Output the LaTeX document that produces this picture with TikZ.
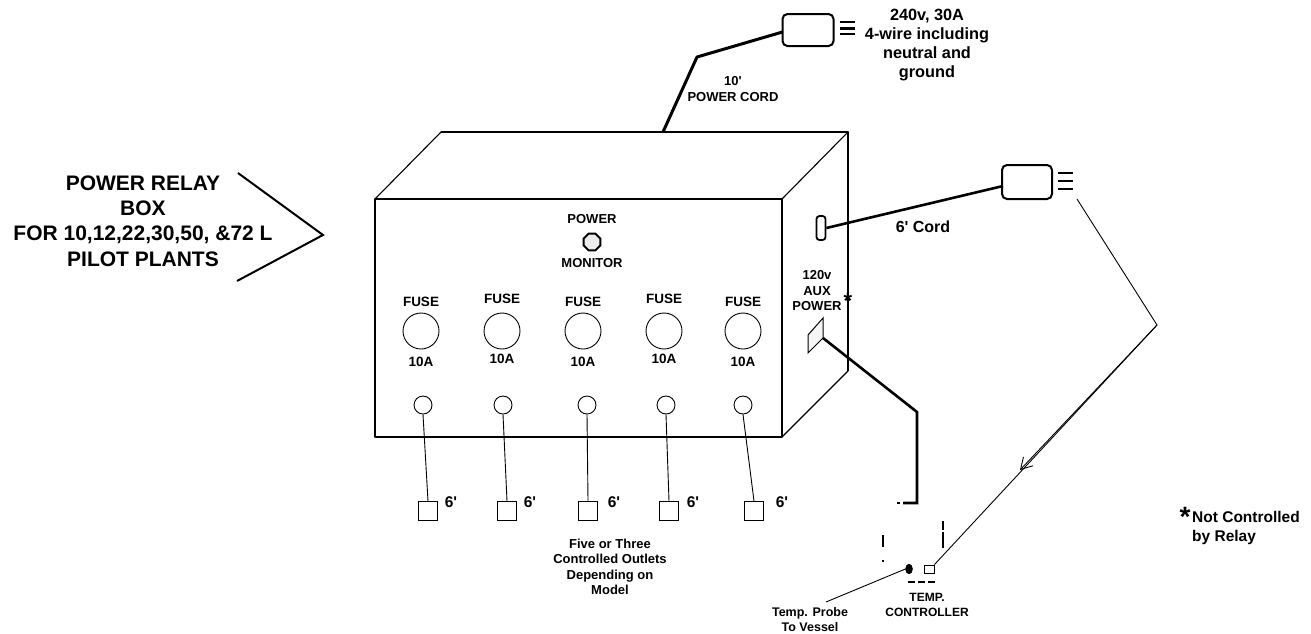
\documentclass[tikz,border=0pt]{standalone}
\usepackage{fontspec}
\setmainfont{Liberation Sans}
\usetikzlibrary{arrows.meta,shapes.geometric,calc}
\newcommand{\ft}{\textquotesingle}
\begin{document}
\begin{tikzpicture}[x=1pt,y=-1pt,
  txt/.style={font=\bfseries\fontsize{13}{15.5}\selectfont, align=center, inner sep=0pt},
  bigtxt/.style={font=\bfseries\fontsize{21}{25.3}\selectfont, align=center, inner sep=0pt},
  plugtxt/.style={font=\bfseries\fontsize{16.3}{18.7}\selectfont, align=center, inner sep=0pt},
  sixtxt/.style={font=\bfseries\fontsize{15.5}{18}\selectfont, inner sep=0pt},
  edge/.style={line width=1.8pt, line join=round},
  thinedge/.style={line width=1.1pt, line join=round},
  cord/.style={line width=3pt, line join=round},
  wire/.style={line width=0.9pt},
  plug/.style={draw, line width=2pt, rounded corners=5pt, inner sep=0pt},
  fuse/.style={draw, circle, line width=0.9pt, minimum size=36pt, inner sep=0pt},
  jack/.style={draw, circle, line width=0.9pt, minimum size=18pt, inner sep=0pt},
  outlet/.style={draw, line width=0.9pt, minimum size=19pt, inner sep=0pt},
  prong/.style={line width=1.2pt},
]
\useasboundingbox (0,0) rectangle (1311,633);

% ---------- left label and chevron
\node[bigtxt] (title) at (143,221) {POWER RELAY\\BOX\\FOR 10,12,22,30,50, \&72 L\\PILOT PLANTS};
\coordinate (chA) at (238,173);
\coordinate (chB) at (323,235);
\coordinate (chC) at (237,281);
\draw[line width=2pt] (chA) -- (chB) -- (chC);

% ---------- box
\coordinate (FTL) at (375,199);
\coordinate (FTR) at (782,199);
\coordinate (FBR) at (782,437);
\coordinate (FBL) at (375,437);
\coordinate (BTL) at (441,132);
\coordinate (BTR) at (848,132);
\coordinate (BBR) at (848,371);
\draw[thinedge] (FTL) -- (BTL) -- (BTR) -- (FTR);
\draw[thinedge] (BTR) -- (BBR) -- (FBR);
\draw[edge] (FTL) rectangle (FBR);
\draw[edge] (BTL) -- (BTR) -- (BBR);

% ---------- power cord and 240v plug
\node[plug, minimum width=51pt, minimum height=32pt] (plugA) at (808,30) {};
\draw[prong] ($(plugA.east)+(5,-8)$) -- ++(15,0);
\draw[line width=2.2pt] ($(plugA.east)+(5,-1.5)$) -- ++(15,0);
\draw[prong] ($(plugA.east)+(5,4)$) -- ++(15,0);
\coordinate (pcBase) at (663,132);
\coordinate (pcBend) at (697,57);
\draw[cord] (pcBase) -- (pcBend) -- ($(plugA.west)+(1,2)$);
\node[txt] (pcLabel) at (733,89) {10\ft\\POWER CORD};
\node[plugtxt] (plugAtxt) at (927,45) {240v, 30A\\4-wire including\\neutral and\\ground};

% ---------- front panel
\node[txt] (pwr) at (592,219) {POWER};
\node[draw, regular polygon, regular polygon sides=8, minimum size=18pt, line width=2pt, fill=gray!15, inner sep=0pt] (lamp) at (592,242) {};
\node[txt] (mon) at (592,263) {MONITOR};

\foreach \i/\x/\dy in {1/421/0, 2/502/-3, 3/583/0, 4/664/-3, 5/743/0} {
  \node[txt, font=\bfseries\fontsize{13.5}{16}\selectfont] (fl\i) at (\x,302+\dy) {FUSE};
  \node[fuse] (fuse\i) at (\x,331) {};
  \node[txt, font=\bfseries\fontsize{13.5}{16}\selectfont] (fa\i) at (\x,362+\dy) {10A};
}

\foreach \i/\x/\sx/\lx in {1/423/428/451, 2/503/507/530, 3/587/588/614, 4/666/669/693, 5/743/754/782} {
  \node[jack] (jack\i) at (\x,405) {};
  \node[outlet] (out\i) at (\sx,511) {};
  \draw[wire] (jack\i.south) -- (out\i.north);
  \node[sixtxt] (six\i) at (\lx,502) {6\ft};
}
\node[txt] (fiveTxt) at (610,567) {Five or Three\\Controlled Outlets\\Depending on\\Model};

% ---------- side outlet, 6' cord, 120v plug
\node[draw, line width=1.8pt, rounded corners=3pt, minimum width=9pt, minimum height=24pt, inner sep=0pt] (sideOut) at (821,228) {};
\node[plug, minimum width=50pt, minimum height=34pt] (plugB) at (1027,182) {};
\draw[prong] ($(plugB.east)+(5,-9)$) -- ++(15,0);
\draw[line width=2.2pt] ($(plugB.east)+(5,-1)$) -- ++(15,0);
\draw[prong] ($(plugB.east)+(5,7)$) -- ++(15,0);
\draw[line width=2.6pt] (sideOut.east) -- ($(plugB.west)+(2,4)$);
\node[font=\bfseries\fontsize{16}{18}\selectfont, inner sep=0pt] (cordTxt) at (923,227) {6\ft{} Cord};

% ---------- aux power
\node[txt] (auxTxt) at (817,291) {120v\\AUX\\POWER};
\node[font=\bfseries\fontsize{22}{22}\selectfont, inner sep=0pt] (auxStar) at (848,301) {*};
\coordinate (auxA) at (808,335);
\coordinate (auxB) at (823,318);
\coordinate (auxC) at (823,338);
\coordinate (auxD) at (808,353);
\draw[line width=1pt, fill=gray!8] (auxA) -- (auxB) -- (auxC) -- (auxD) -- cycle;
\coordinate (auxBend) at (917,412);
\coordinate (auxDown) at (917,503);
\coordinate (auxEnd) at (903,503);
\draw[line width=2.6pt, line join=miter] (auxC) -- (auxBend) -- (auxDown) -- (auxEnd);

% ---------- temperature controller (broken outline)
\draw[line width=1.5pt] (897,503) -- (900,503);
\draw[line width=1.5pt] (883,535) -- (883,547);
\draw[line width=1.5pt] (883,560) -- (883,562);
\draw[line width=1.5pt, dash pattern=on 9pt off 2pt on 20pt] (943,521) -- (943,548);
\draw[line width=1.8pt, dash pattern=on 7pt off 3pt] (908,582) -- (938,582);
\node[draw=black, fill=black, ellipse, minimum width=7pt, minimum height=10pt, inner sep=0pt] (probe) at (909,569) {};
\node[draw, line width=0.9pt, minimum width=10pt, minimum height=8pt, inner sep=0pt] (ctrlSq) at (929,569) {};
\node[txt, font=\bfseries\fontsize{12}{15}\selectfont] (ctrlTxt) at (927,605) {TEMP.\\CONTROLLER};
\node[txt, font=\bfseries\fontsize{12.5}{15}\selectfont] (probeTxt) at (810,620) {Temp. Probe\\To Vessel};
\coordinate (probeLineEnd) at (826,602);
\draw[wire] (probe.west) -- (probeLineEnd);

% ---------- control wire from 120v plug to controller
\coordinate (ctlStart) at (1077,199);
\coordinate (ctlBend) at (1157,325);
\coordinate (ctlArrow) at (1020,470);
\draw[line width=0.9pt] (ctlStart) -- (ctlBend) -- (ctrlSq.north east);
\draw[line width=0.9pt, -{Straight Barb[length=11pt,width=13pt]}] (ctlBend) -- (ctlArrow);

% ---------- note
\node[font=\bfseries\fontsize{28}{28}\selectfont, inner sep=0pt] (noteStar) at (1185,517) {*};
\node[font=\bfseries\fontsize{15.5}{19}\selectfont, align=left, inner sep=0pt, anchor=west] (noteTxt) at (1192,528) {Not Controlled\\by Relay};
\end{tikzpicture}
\end{document}
